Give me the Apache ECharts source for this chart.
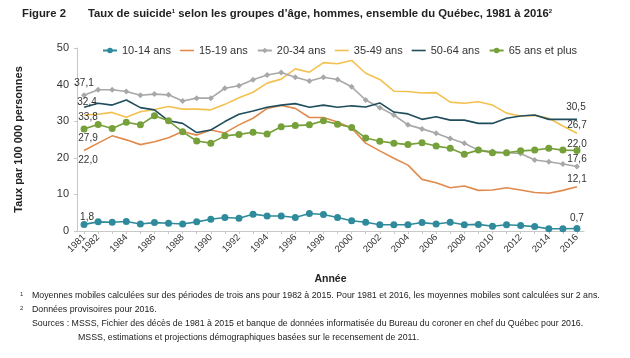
<!DOCTYPE html>
<html><head><meta charset="utf-8">
<script src="https://cdn.jsdelivr.net/npm/echarts@6/dist/echarts.min.js"></script>
<style>html,body{margin:0;padding:0;background:#fff}#c{width:630px;height:358px}</style>
</head><body><div id="c"></div>
<script>
const years = ['1981','1982','1983','1984','1985','1986','1987','1988','1989','1990','1991','1992','1993','1994','1995','1996','1997','1998','1999','2000','2001','2002','2003','2004','2005','2006','2007','2008','2009','2010','2011','2012','2013','2014','2015','2016'];
const seriesNames = ['10-14 ans','15-19 ans','20-34 ans','35-49 ans','50-64 ans','65 ans et plus'];
const s1014 = [1.8,2.5,2.4,2.6,1.9,2.3,2.1,1.9,2.5,3.2,3.7,3.5,4.6,4.1,4.1,3.7,4.8,4.5,3.7,2.8,2.4,1.7,1.7,1.7,2.3,1.9,2.4,1.7,1.8,1.3,1.7,1.5,1.2,0.6,0.6,0.7];
const s1519 = [22.0,24.0,26.0,24.9,23.6,24.4,25.5,27.2,26.2,27.6,26.8,29.0,30.8,33.5,34.3,33.5,31.0,31.0,29.8,28.1,24.0,21.9,19.9,18.0,14.1,13.2,11.8,12.3,11.1,11.2,11.8,11.2,10.5,10.3,11.1,12.1];
const s2034 = [37.1,38.6,38.6,38.1,37.1,37.4,37.2,35.5,36.3,36.3,39.0,39.7,41.3,42.6,43.3,42.0,41.0,42.0,41.4,39.4,35.8,33.7,31.7,29.0,27.9,26.7,25.3,24.0,22.1,21.7,21.4,21.2,19.4,18.9,18.3,17.6];
const s3549 = [31.7,31.9,32.4,31.1,32.6,33.2,34.0,33.3,33.3,33.1,34.6,36.4,37.9,40.4,41.5,44.3,43.4,46.0,45.7,46.6,43.1,41.4,38.2,38.1,37.7,37.8,35.2,34.9,35.3,34.4,32.2,31.4,31.6,30.8,28.7,26.7];
const s5064 = [33.8,34.9,34.4,35.8,33.7,33.1,30.1,29.4,26.9,27.6,29.9,31.9,32.8,33.8,34.4,34.8,33.8,34.4,33.8,34.2,33.9,35.0,32.5,32.0,30.5,31.2,30.3,30.3,29.4,29.4,30.8,31.4,31.7,30.5,30.5,30.5];
const s65 = [27.9,29.1,28.0,29.7,29.0,31.5,30.1,27.1,24.6,24.0,26.0,26.4,27.0,26.5,28.5,28.8,29.0,30.1,29.2,28.3,25.4,24.5,24.0,23.6,24.1,23.2,22.6,21.0,22.1,21.4,21.4,21.9,22.1,22.6,22.1,22.0];
const startLabels = ['1,8','22,0','37,1','33,8','32,4','27,9'];
const endLabels = ['0,7','12,1','17,6','26,7','30,5','22,0'];
const yTicks = [0,10,20,30,40,50];

const values = [s1014,s1519,s2034,s3549,s5064,s65];
const colors = ['#2f8b9b','#e08a4c','#a8a8a8','#f3c14f','#1f4d5c','#75a03a'];
const symbols = ['circle','none','diamond','none','none','circle'];
const symSizes = [7,0,6,0,0,7];
const startOff = [[3,-7],[4,10],[0,-12],[4,2],[3,-5],[4,9]];
const endOff = [[0,-10],[0,-7],[0,-7],[0,-8],[-1,-12],[0,-6]];

const series = values.map((arr,k)=>{
  const plain = symbols[k]==='none';
  const lab = (txt,off)=>({show:true,position:'inside',offset:off,formatter:txt});
  return {
    name: seriesNames[k],
    type:'line',
    data: arr.map((v,i)=>{
      const last = i===arr.length-1;
      if(i===0 || last){
        const o = {value:v,label:lab(last?endLabels[k]:startLabels[k], last?endOff[k]:startOff[k])};
        if(plain){o.symbol='circle';o.symbolSize=0.01;}
        return o;
      }
      return v;
    }),
    symbol: symbols[k],
    symbolSize: symSizes[k],
    showSymbol:true,
    lineStyle:{color:colors[k],width:1.6},
    itemStyle:{color:colors[k]},
    label:{color:'#333',fontSize:10,fontFamily:'Liberation Sans'},
    z: [6,2,3,1,4,5][k]
  };
});

const legendData = seriesNames.map((n,k)=> symbols[k]==='none'
  ? {name:n, icon:'path://M0,0H14V1.6H0Z'}
  : {name:n});

const chart = echarts.init(document.getElementById('c'),null,{renderer:'canvas'});
chart.setOption({
  animation:false,
  backgroundColor:'#fff',
  title:{
    left:17, top:3,
    text:'Figure 2{gap|}{b|Taux de suicide}{sup|1}{b| selon les groupes d’âge, hommes, ensemble du Québec, 1981 à 2016}{sup|2}',
    textStyle:{fontFamily:'Liberation Sans',fontWeight:'bold',fontSize:11.3,color:'#222',
      rich:{b:{fontFamily:'Liberation Sans',fontWeight:'bold',fontSize:11.3,color:'#222'},
            gap:{width:22},
            sup:{fontFamily:'Liberation Sans',fontSize:6,color:'#222',verticalAlign:'top',padding:[0,0,6,0]}}}
  },
  legend:{
    left:97, top:40, itemWidth:14, itemHeight:7, itemGap:9,
    textStyle:{fontFamily:'Liberation Sans',fontSize:11,color:'#333'},
    data: legendData
  },
  grid:{left:77,right:46,top:48,bottom:127,containLabel:false},
  xAxis:{
    type:'category', data:years, boundaryGap:true,
    name:'Année', nameLocation:'middle', nameGap:43,
    nameTextStyle:{fontFamily:'Liberation Sans',fontWeight:'bold',fontSize:10.5,color:'#222'},
    axisLine:{lineStyle:{color:'#c8c8c8'}},
    axisTick:{show:true,interval:0,alignWithLabel:true,length:3,lineStyle:{color:'#c8c8c8'}},
    axisLabel:{rotate:45,fontFamily:'Liberation Sans',fontSize:9.5,color:'#333',margin:5,
      interval:(i,v)=> v==='1981' || (+v)%2===0}
  },
  yAxis:{
    type:'value', min:yTicks[0], max:yTicks[yTicks.length-1], interval:10,
    name:'Taux par 100 000 personnes', nameLocation:'middle', nameGap:53,
    nameTextStyle:{fontFamily:'Liberation Sans',fontWeight:'bold',fontSize:11,color:'#222'},
    axisLine:{show:true,lineStyle:{color:'#c8c8c8'}},
    axisTick:{show:true,length:3,lineStyle:{color:'#c8c8c8'}},
    splitLine:{show:false},
    axisLabel:{fontFamily:'Liberation Sans',fontSize:11,color:'#333',margin:8}
  },
  series: series,
  graphic:[
    {type:'text',left:20,top:291,style:{text:'1',font:'6px Liberation Sans',fill:'#333'}},
    {type:'text',left:32,top:291,style:{text:'Moyennes mobiles calculées sur des périodes de trois ans pour 1982 à 2015. Pour 1981 et 2016, les moyennes mobiles sont calculées sur 2 ans.',font:'8.8px Liberation Sans',fill:'#222'}},
    {type:'text',left:20,top:305,style:{text:'2',font:'6px Liberation Sans',fill:'#333'}},
    {type:'text',left:32,top:305,style:{text:'Données provisoires pour 2016.',font:'8.8px Liberation Sans',fill:'#222'}},
    {type:'text',left:32,top:319,style:{text:'Sources : MSSS, Fichier des décès de 1981 à 2015 et banque de données informatisée du Bureau du coroner en chef du Québec pour 2016.',font:'8.8px Liberation Sans',fill:'#222'}},
    {type:'text',left:78,top:333,style:{text:'MSSS, estimations et projections démographiques basées sur le recensement de 2011.',font:'8.8px Liberation Sans',fill:'#222'}}
  ]
});
</script>
</body></html>
